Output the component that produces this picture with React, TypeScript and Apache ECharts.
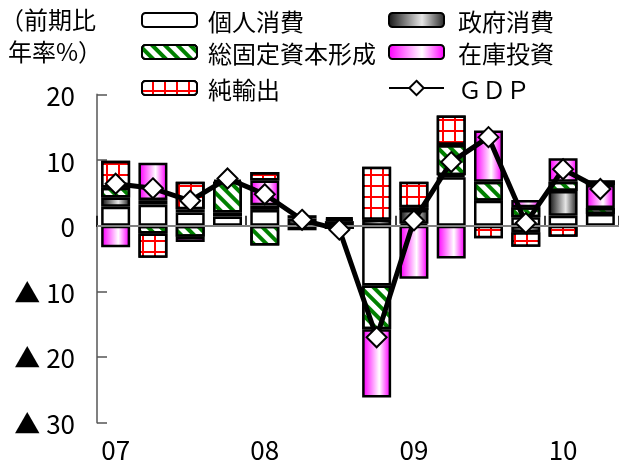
import { useEffect, useRef } from 'react';
import * as echarts from 'echarts';

const quarters = [
  '2007Q1', '2007Q2', '2007Q3', '2007Q4',
  '2008Q1', '2008Q2', '2008Q3', '2008Q4',
  '2009Q1', '2009Q2', '2009Q3', '2009Q4',
  '2010Q1', '2010Q2',
];
const privateConsumption = [2.9, 3.2, 2.0, 1.4, 2.4, -0.7, null, -9.1, 0.3, 7.4, 3.8, 1.3, 1.5, 1.8];
const governmentConsumption = [1.4, 0.7, 0.5, 0.6, 0.7, 1.1, 0.7, 0.9, 2.1, 0.3, null, -1.0, 3.8, null];
const fixedInvestment = [1.5, -1.2, -1.7, 4.7, -3.0, null, 0.3, -6.7, 0.4, 4.6, 2.9, 1.5, 1.4, 0.9];
const inventoryInvestment = [-3.3, 5.7, -0.8, 0.3, 3.8, 0.5, 0.3, -10.4, -8.1, -5.0, 7.8, 1.1, 3.6, 3.5];
const netExports = [4.1, -3.7, 4.2, null, 1.3, null, -0.5, 8.1, 3.9, 4.5, -1.9, -2.2, -1.7, 0.7];
const gdp = [6.4, 5.7, 3.8, 7.2, 4.8, 0.9, -0.6, -17.0, 0.8, 9.7, 13.5, 0.4, 8.6, 5.6];

const seriesNames = ['個人消費', '政府消費', '総固定資本形成', '在庫投資', '純輸出', 'GDP'];

export default function App() {
  const ref = useRef<HTMLDivElement>(null);
  useEffect(() => {
    if (!ref.current) return;
    const chart = echarts.init(ref.current, null, { renderer: 'svg' });
    const font = '"Noto Sans CJK JP", "Noto Sans", sans-serif';
    const border = { borderColor: '#000', borderWidth: 2.5 };
    const grayGrad = new echarts.graphic.LinearGradient(0, 0, 1, 0, [
      { offset: 0, color: '#1a1a1a' },
      { offset: 0.6, color: '#e6e6e6' },
      { offset: 1, color: '#2a2a2a' },
    ]);
    const pinkGrad = new echarts.graphic.LinearGradient(0, 0, 1, 0, [
      { offset: 0, color: '#ff00ff' },
      { offset: 0.6, color: '#ffffff' },
      { offset: 1, color: '#ff00ff' },
    ]);
    const barBase = { type: 'bar', stack: 'total', barWidth: 29 };
    const legendCommon = {
      orient: 'horizontal',
      itemWidth: 55,
      itemHeight: 14,
      itemGap: 0,
      padding: 0,
      selectedMode: false,
      textStyle: { fontSize: 24, fontFamily: font, color: '#000', lineHeight: 28, padding: [0, 0, 0, 6] },
    };
    const legendRight = {
      ...legendCommon,
      textStyle: { ...legendCommon.textStyle, padding: [0, 0, 0, 9] },
    };
    chart.setOption({
      animation: false,
      textStyle: { fontFamily: font },
      grid: { left: 97, right: -3, top: 94.5, bottom: 43.5 },
      legend: [
        { ...legendCommon, data: [seriesNames[0]], left: 141, top: 6 },
        { ...legendCommon, data: [seriesNames[2]], left: 141, top: 38 },
        { ...legendCommon, data: [seriesNames[4]], left: 141, top: 74 },
        { ...legendRight, data: [seriesNames[1]], left: 388, top: 6 },
        { ...legendRight, data: [seriesNames[3]], left: 388, top: 38 },
        {
          ...legendRight,
          itemHeight: 18,
          data: [seriesNames[5]],
          left: 388,
          top: 74,
          formatter: () => 'ＧＤＰ',
        },
      ],
      graphic: [
        { type: 'text', left: 0, top: 6, style: { text: '（前期比', font: `24px ${font}`, fill: '#000' } },
        { type: 'text', left: 8, top: 38, style: { text: '年率%）', font: `24px ${font}`, fill: '#000' } },
      ],
      xAxis: {
        type: 'category',
        data: quarters,
        boundaryGap: true,
        axisLine: { lineStyle: { color: '#000', width: 2 } },
        axisTick: { show: true, inside: true, length: 10, interval: 3, lineStyle: { color: '#000', width: 1.5 } },
        axisLabel: {
          interval: 3,
          margin: 13,
          fontSize: 26,
          fontFamily: font,
          color: '#000',
          formatter: (v: string) => v.slice(2, 4),
        },
      },
      yAxis: {
        type: 'value',
        min: -30,
        max: 20,
        interval: 10,
        splitLine: { show: false },
        axisLine: { show: true, lineStyle: { color: '#808080', width: 2 } },
        axisTick: { show: true, inside: true, length: 10, lineStyle: { color: '#555', width: 1.5 } },
        axisLabel: {
          margin: 22,
          fontSize: 26,
          fontFamily: font,
          color: '#000',
          formatter: (v: number) => (v < 0 ? '▲ ' + -v : String(v)),
        },
      },
      series: [
        { ...barBase, name: seriesNames[0], data: privateConsumption, itemStyle: { color: '#ffffff', ...border } },
        { ...barBase, name: seriesNames[1], data: governmentConsumption, itemStyle: { color: grayGrad, ...border } },
        {
          ...barBase,
          name: seriesNames[2],
          data: fixedInvestment,
          itemStyle: {
            color: '#ffffff',
            ...border,
            decal: { symbol: 'rect', color: '#008000', dashArrayX: [1, 0], dashArrayY: [4, 5], rotation: Math.PI / 4, symbolSize: 1 },
          },
        },
        { ...barBase, name: seriesNames[3], data: inventoryInvestment, itemStyle: { color: pinkGrad, ...border } },
        {
          ...barBase,
          name: seriesNames[4],
          data: netExports,
          itemStyle: {
            color: '#ff0000',
            ...border,
            decal: { symbol: 'rect', color: '#ffffff', dashArrayX: [10, 2], dashArrayY: [9, 2], symbolSize: 1 },
          },
        },
        {
          type: 'line',
          name: seriesNames[5],
          data: gdp,
          z: 5,
          symbol: 'diamond',
          symbolSize: 20,
          lineStyle: { color: '#000', width: 5 },
          itemStyle: { color: '#ffffff', borderColor: '#000', borderWidth: 2 },
          markLine: {
            silent: true,
            symbol: 'none',
            label: { show: false },
            lineStyle: { color: '#808080', width: 2, type: 'solid' },
            data: [{ yAxis: 0 }],
          },
        },
      ],
    });
    return () => chart.dispose();
  }, []);
  return <div ref={ref} style={{ position: 'fixed', left: 0, top: 0, width: 619, height: 466 }} />;
}
